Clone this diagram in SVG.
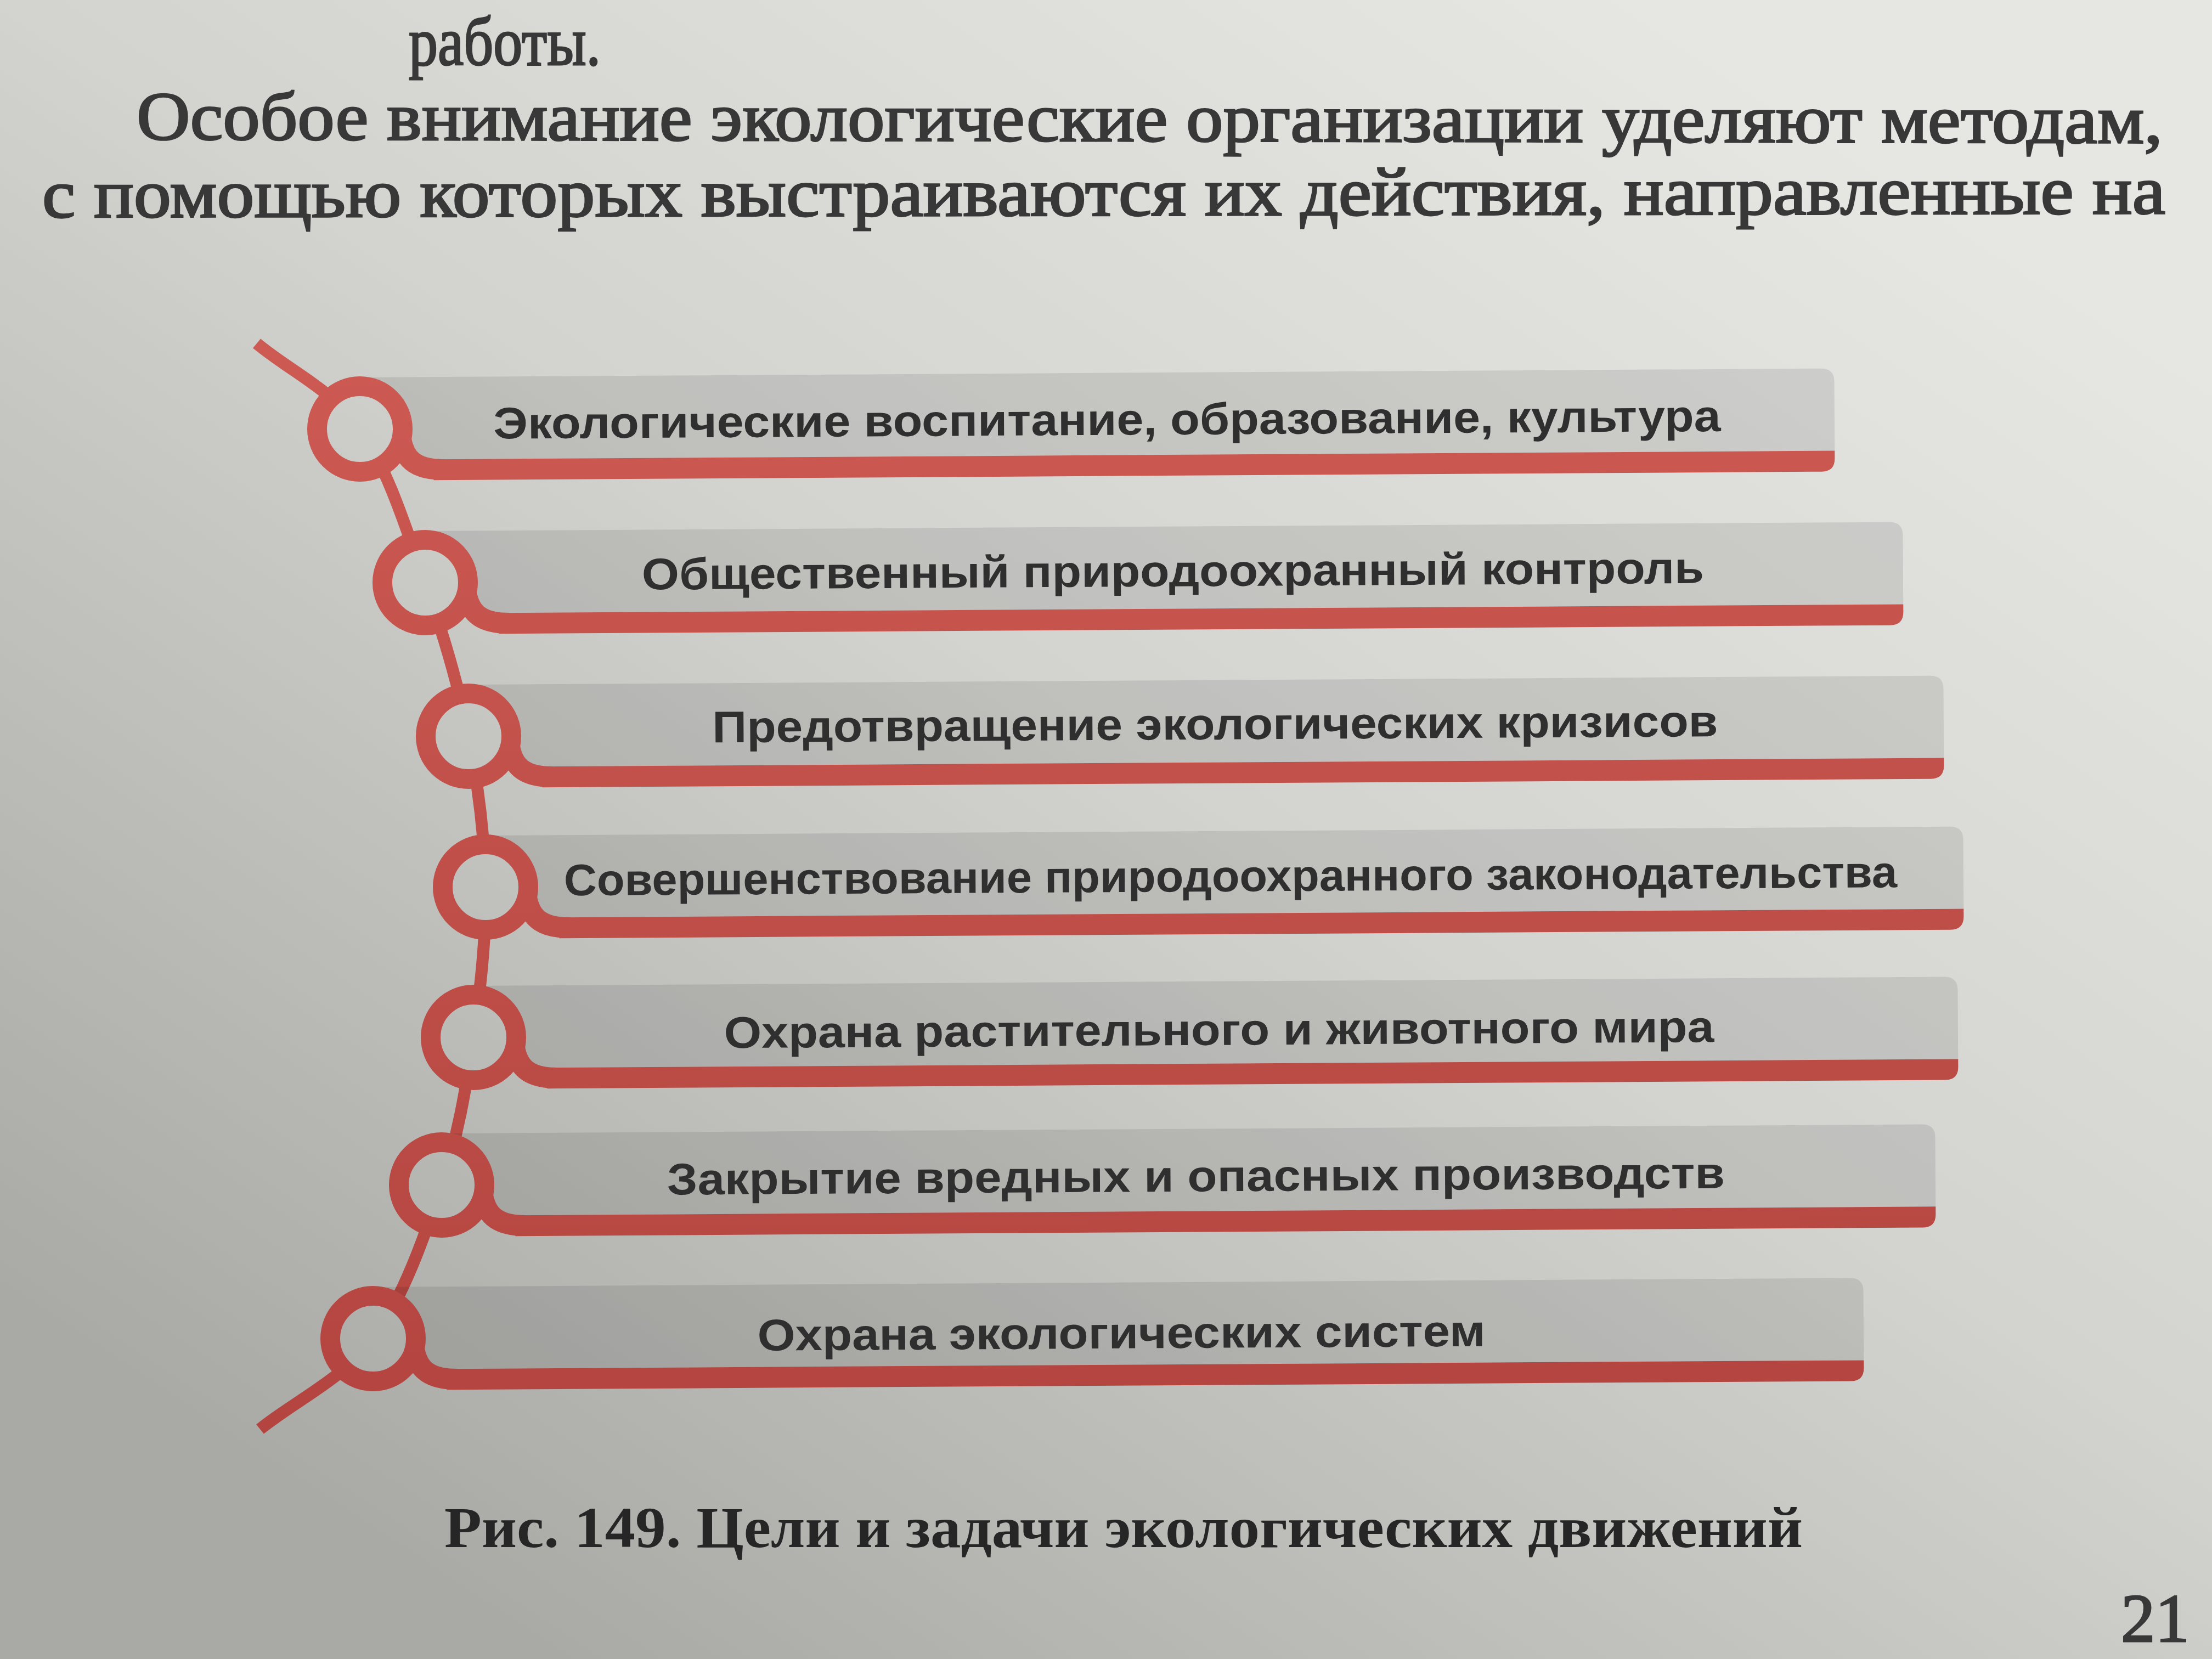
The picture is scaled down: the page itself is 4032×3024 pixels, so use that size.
<svg xmlns="http://www.w3.org/2000/svg" width="4032" height="3024" viewBox="0 0 4032 3024">
<defs>
<linearGradient id="paper" gradientUnits="userSpaceOnUse" x1="3000" y1="0" x2="1000" y2="3024">
<stop offset="0" stop-color="#e6e6e3"/>
<stop offset="0.45" stop-color="#d3d3d0"/>
<stop offset="1" stop-color="#a9a9a6"/>
</linearGradient>
<linearGradient id="red" gradientUnits="userSpaceOnUse" x1="0" y1="600" x2="0" y2="2620">
<stop offset="0" stop-color="#cd5a53"/>
<stop offset="1" stop-color="#b3443f"/>
</linearGradient>
<style>
.bar{fill:#000;fill-opacity:0.09}
.redf{fill:url(#red)}
.fil{fill:none;stroke:url(#red);stroke-width:38}
.ring{fill:url(#paper);stroke:url(#red);stroke-width:36}
.lbl{font-family:"Liberation Sans",Arial,sans-serif;font-weight:bold;font-size:81px;fill:#2f2f2f;text-anchor:middle}
.para{font-family:"Liberation Serif","Times New Roman",serif;font-size:125px;fill:#383838;stroke:#383838;stroke-width:3}
.cap{font-family:"Liberation Serif","Times New Roman",serif;font-weight:bold;font-size:105px;fill:#262626}
</style>
</defs>
<rect id="page" x="0" y="0" width="4032" height="3024" fill="url(#paper)"/>
<g id="text-top">
<text class="para" x="745" y="118" font-size="98" textLength="350" lengthAdjust="spacingAndGlyphs">работы.</text>
<text class="para" x="249" y="254" textLength="3693" lengthAdjust="spacingAndGlyphs" transform="rotate(0.1 249 254)">Особое внимание экологические организации уделяют методам,</text>
<text class="para" x="77" y="396" textLength="3870" lengthAdjust="spacingAndGlyphs" transform="rotate(-0.1 77 396)">с помощью которых выстраиваются их действия, направленные на</text>
</g>
<g id="connectors">
<path d="M468,626 C530.7,678 604.8,709.3 656,782 C707.2,854.7 742,968.7 775,1062 C808,1155.3 835.7,1249.5 854,1342 C872.3,1434.5 883.5,1525.5 885,1617 C886.5,1708.5 876.3,1800.5 863,1891 C849.7,1981.5 835.5,2068.5 805,2160 C774.5,2251.5 735.2,2365.8 680,2440 C624.8,2514.2 542.7,2550 474,2605" fill="none" stroke="url(#red)" stroke-width="22" stroke-linecap="butt"/>
</g>
<g id="node1" transform="rotate(-0.35 656 782)">
<path class="bar" d="M656,688 H3320 Q3344,688 3344,712 V838 H656 Z"/>
<path class="redf" d="M790,838 H3344 V852 Q3344,876 3320,876 H790 Z"/>
<path class="fil" d="M731,802 C738,842 762,857 810,857"/>
<circle class="ring" cx="656" cy="782" r="78"/>
<text class="lbl" x="2018" y="801" textLength="2237" lengthAdjust="spacingAndGlyphs">Экологические воспитание, образование, культура</text>
</g>
<g id="node2" transform="rotate(-0.35 775 1062)">
<path class="bar" d="M775,968 H3445 Q3469,968 3469,992 V1118 H775 Z"/>
<path class="redf" d="M909,1118 H3469 V1132 Q3469,1156 3445,1156 H909 Z"/>
<path class="fil" d="M850,1082 C857,1122 881,1137 929,1137"/>
<circle class="ring" cx="775" cy="1062" r="78"/>
<text class="lbl" x="2138" y="1077" textLength="1936" lengthAdjust="spacingAndGlyphs">Общественный природоохранный контроль</text>
</g>
<g id="node3" transform="rotate(-0.35 854 1342)">
<path class="bar" d="M854,1248 H3519 Q3543,1248 3543,1272 V1398 H854 Z"/>
<path class="redf" d="M988,1398 H3543 V1412 Q3543,1436 3519,1436 H988 Z"/>
<path class="fil" d="M929,1362 C936,1402 960,1417 1008,1417"/>
<circle class="ring" cx="854" cy="1342" r="78"/>
<text class="lbl" x="2215" y="1356" textLength="1833" lengthAdjust="spacingAndGlyphs">Предотвращение экологических кризисов</text>
</g>
<g id="node4" transform="rotate(-0.35 885 1617)">
<path class="bar" d="M885,1523 H3555 Q3579,1523 3579,1547 V1673 H885 Z"/>
<path class="redf" d="M1019,1673 H3579 V1687 Q3579,1711 3555,1711 H1019 Z"/>
<path class="fil" d="M960,1637 C967,1677 991,1692 1039,1692"/>
<circle class="ring" cx="885" cy="1617" r="78"/>
<text class="lbl" x="2243" y="1633" textLength="2430" lengthAdjust="spacingAndGlyphs">Совершенствование природоохранного законодательства</text>
</g>
<g id="node5" transform="rotate(-0.35 863 1891)">
<path class="bar" d="M863,1797 H3545 Q3569,1797 3569,1821 V1947 H863 Z"/>
<path class="redf" d="M997,1947 H3569 V1961 Q3569,1985 3545,1985 H997 Z"/>
<path class="fil" d="M938,1911 C945,1951 969,1966 1017,1966"/>
<circle class="ring" cx="863" cy="1891" r="78"/>
<text class="lbl" x="2222" y="1913" textLength="1805" lengthAdjust="spacingAndGlyphs">Охрана растительного и животного мира</text>
</g>
<g id="node6" transform="rotate(-0.35 805 2160)">
<path class="bar" d="M805,2066 H3504 Q3528,2066 3528,2090 V2216 H805 Z"/>
<path class="redf" d="M939,2216 H3528 V2230 Q3528,2254 3504,2254 H939 Z"/>
<path class="fil" d="M880,2180 C887,2220 911,2235 959,2235"/>
<circle class="ring" cx="805" cy="2160" r="78"/>
<text class="lbl" x="2180" y="2180" textLength="1928" lengthAdjust="spacingAndGlyphs">Закрытие вредных и опасных производств</text>
</g>
<g id="node7" transform="rotate(-0.35 680 2440)">
<path class="bar" d="M680,2346 H3373 Q3397,2346 3397,2370 V2496 H680 Z"/>
<path class="redf" d="M814,2496 H3397 V2510 Q3397,2534 3373,2534 H814 Z"/>
<path class="fil" d="M755,2460 C762,2500 786,2515 834,2515"/>
<circle class="ring" cx="680" cy="2440" r="78"/>
<text class="lbl" x="2044" y="2466" textLength="1327" lengthAdjust="spacingAndGlyphs">Охрана экологических систем</text>
</g>
<g id="caption">
<text class="cap" x="810" y="2820" textLength="2476" lengthAdjust="spacingAndGlyphs">Рис. 149. Цели и задачи экологических движений</text>
</g>
<g id="page-number">
<text class="para" x="3866" y="2992" font-size="100">21</text>
</g>
</svg>
